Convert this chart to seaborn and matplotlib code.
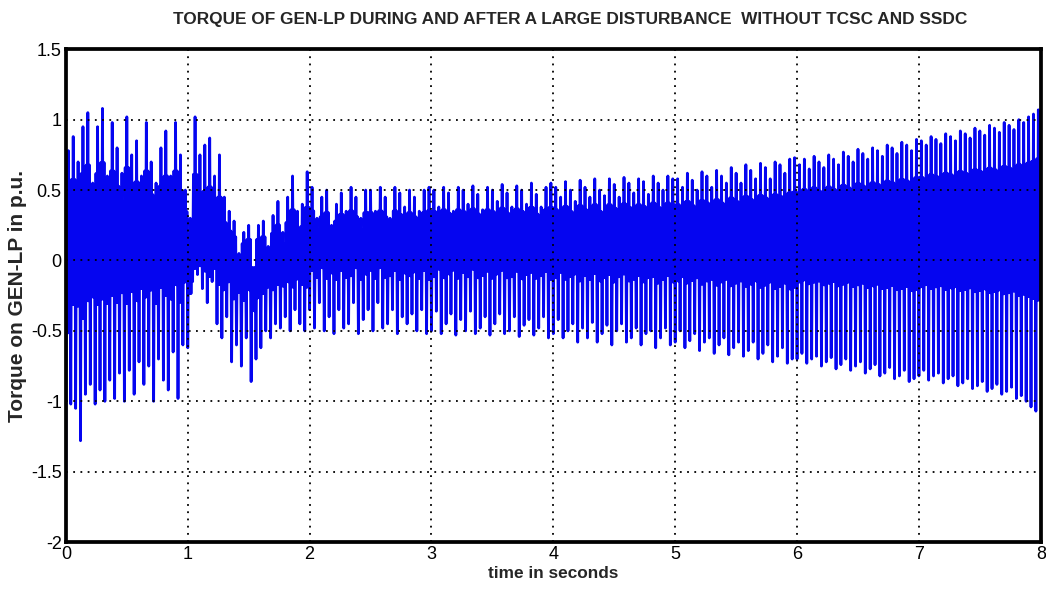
import matplotlib
matplotlib.use("Agg")
import matplotlib.pyplot as plt
import numpy as np
import pandas as pd
import seaborn as sns

# Peak (top) and trough (bottom) of each oscillation cycle,
# 25 cycles per second, one list per second of simulation time.
top0 = [0.78, 0.88, 0.70, 0.95, 1.05, 0.55, 0.95, 1.08, 0.60, 0.98, 0.80, 0.62, 1.02,
        0.75, 0.85, 0.60, 0.98, 0.70, 0.55, 0.80, 0.92, 0.60, 0.98, 0.75, 0.50]
bot0 = [-1.55, -1.02, -1.05, -1.28, -0.95, -0.88, -1.02, -0.92, -1.00, -0.85, -0.98, -0.80, -1.00,
        -0.78, -0.95, -0.72, -0.88, -0.75, -1.00, -0.70, -0.85, -0.92, -0.65, -0.98, -0.60]
top1 = [0.30, 1.02, 0.75, 0.82, 0.87, 0.60, 0.75, 0.45, 0.35, 0.28, 0.05, 0.20, 0.25,
        -0.05, 0.25, 0.28, 0.10, 0.32, 0.42, 0.20, 0.45, 0.60, 0.35, 0.40, 0.63]
bot1 = [-0.62, -0.15, -0.10, -0.20, -0.30, -0.15, -0.45, -0.55, -0.40, -0.72, -0.60, -0.75, -0.55,
        -0.86, -0.70, -0.62, -0.50, -0.55, -0.45, -0.48, -0.40, -0.50, -0.35, -0.45, -0.50]
top2 = [0.52, 0.30, 0.45, 0.50, 0.25, 0.40, 0.48, 0.35, 0.52, 0.45, 0.30, 0.50, 0.50,
        0.35, 0.52, 0.45, 0.30, 0.52, 0.48, 0.38, 0.50, 0.45, 0.35, 0.50, 0.52]
bot2 = [-0.35, -0.48, -0.30, -0.50, -0.40, -0.52, -0.35, -0.48, -0.45, -0.30, -0.52, -0.42, -0.35,
        -0.50, -0.30, -0.48, -0.45, -0.35, -0.52, -0.40, -0.45, -0.38, -0.50, -0.35, -0.52]
top3 = [0.50, 0.38, 0.52, 0.48, 0.35, 0.52, 0.50, 0.40, 0.53, 0.47, 0.36, 0.52, 0.50,
        0.42, 0.54, 0.48, 0.38, 0.53, 0.50, 0.40, 0.55, 0.47, 0.38, 0.52, 0.55]
bot3 = [-0.50, -0.36, -0.52, -0.45, -0.38, -0.53, -0.42, -0.50, -0.36, -0.52, -0.48, -0.40, -0.53,
        -0.45, -0.38, -0.52, -0.50, -0.40, -0.54, -0.46, -0.42, -0.53, -0.48, -0.40, -0.55]
top4 = [0.52, 0.45, 0.56, 0.50, 0.42, 0.57, 0.52, 0.45, 0.58, 0.50, 0.46, 0.58, 0.54,
        0.45, 0.59, 0.55, 0.48, 0.58, 0.56, 0.47, 0.60, 0.55, 0.50, 0.60, 0.58]
bot4 = [-0.52, -0.42, -0.55, -0.50, -0.45, -0.58, -0.48, -0.55, -0.44, -0.58, -0.52, -0.46, -0.60,
        -0.50, -0.45, -0.58, -0.55, -0.48, -0.60, -0.52, -0.50, -0.62, -0.55, -0.48, -0.60]
top5 = [0.58, 0.52, 0.62, 0.57, 0.50, 0.63, 0.60, 0.52, 0.64, 0.60, 0.55, 0.66, 0.62,
        0.55, 0.68, 0.64, 0.58, 0.69, 0.66, 0.58, 0.70, 0.68, 0.62, 0.72, 0.73]
bot5 = [-0.58, -0.50, -0.62, -0.57, -0.52, -0.64, -0.58, -0.55, -0.66, -0.60, -0.55, -0.67, -0.62,
        -0.58, -0.68, -0.64, -0.58, -0.70, -0.66, -0.60, -0.72, -0.68, -0.62, -0.73, -0.70]
top6 = [0.68, 0.72, 0.65, 0.74, 0.70, 0.66, 0.75, 0.72, 0.68, 0.77, 0.74, 0.70, 0.79,
        0.76, 0.72, 0.80, 0.78, 0.74, 0.82, 0.80, 0.76, 0.84, 0.82, 0.78, 0.86]
bot6 = [-0.70, -0.66, -0.73, -0.70, -0.68, -0.75, -0.72, -0.69, -0.77, -0.74, -0.70, -0.78, -0.75,
        -0.72, -0.80, -0.77, -0.74, -0.82, -0.80, -0.76, -0.84, -0.82, -0.78, -0.86, -0.84]
top7 = [0.85, 0.82, 0.88, 0.86, 0.83, 0.90, 0.88, 0.85, 0.92, 0.90, 0.87, 0.94, 0.92,
        0.89, 0.96, 0.94, 0.91, 0.98, 0.96, 0.93, 1.00, 0.98, 1.02, 1.04, 1.07]
bot7 = [-0.82, -0.78, -0.85, -0.82, -0.80, -0.87, -0.84, -0.82, -0.89, -0.87, -0.84, -0.91, -0.89,
        -0.86, -0.93, -0.91, -0.88, -0.95, -0.93, -0.90, -0.98, -0.96, -1.00, -1.04, -1.07]

# Level around which the fast ripple sits, one value per second
ripple_mid = [0.12, 0.00, 0.10, 0.12, 0.12, 0.12, 0.18, 0.20]

CYCLES_PER_SEC = 25
y_ticks = [-2, -1.5, -1, -0.5, 0, 0.5, 1, 1.5]
y_labels = ["-2", "-1.5", "-1", "-0.5", "0", "0.5", "1", "1.5"]
x_ticks = [0, 1, 2, 3, 4, 5, 6, 7, 8]


def build_frame():
    tops = top0 + top1 + top2 + top3 + top4 + top5 + top6 + top7
    bots = bot0 + bot1 + bot2 + bot3 + bot4 + bot5 + bot6 + bot7
    torque = []
    for i, (b, t) in enumerate(zip(bots, tops)):
        c = min(max(ripple_mid[i // CYCLES_PER_SEC], b), t)
        # each cycle: trough, ripple up, ripple down, peak, ripple down, ripple up
        hi = c + 0.60 * (t - c)
        lo = c + 0.38 * (b - c)
        torque.extend([b, hi, lo, t, lo, hi])
    step = 1.0 / CYCLES_PER_SEC / 6
    time = np.arange(len(torque)) * step
    return pd.DataFrame({"time": time, "torque": torque})


def main():
    sns.set_style("white")
    plt.rcParams["axes.unicode_minus"] = False
    narrow = ["Liberation Sans Narrow", "DejaVu Sans Condensed", "Liberation Sans", "DejaVu Sans"]

    df = build_frame()
    fig = plt.figure(figsize=(10.46, 6.01), dpi=100)
    ax = fig.add_axes([0.063, 0.098, 0.932, 0.820])

    sns.lineplot(data=df, x="time", y="torque", ax=ax, color="#0505f0",
                 linewidth=2.0, estimator=None, sort=False)

    ax.set_xlim(0, 8)
    ax.set_ylim(-2, 1.5)
    ax.set_xticks(x_ticks)
    ax.set_xticklabels([str(v) for v in x_ticks], family=narrow, fontsize=13)
    ax.set_yticks(y_ticks)
    ax.set_yticklabels(y_labels, family=narrow, fontsize=13)
    ax.tick_params(direction="in", length=6, width=2, pad=3, colors="black")

    ax.grid(True, linestyle=(0, (1, 3)), color="black", linewidth=1.3)
    ax.set_axisbelow(False)
    for sp in ax.spines.values():
        sp.set_linewidth(2.7)
        sp.set_color("black")

    ax.set_title("TORQUE OF GEN-LP DURING AND AFTER A LARGE DISTURBANCE  WITHOUT TCSC AND SSDC",
                 family=narrow, fontsize=12.4, fontweight="bold", x=0.517, y=1.0, pad=18)
    ax.set_xlabel("time in seconds", family=narrow, fontsize=12.4, fontweight="bold", labelpad=2)
    ax.set_ylabel("Torque on GEN-LP in p.u.", family=["Liberation Sans", "DejaVu Sans"],
                  fontsize=15, fontweight="bold", labelpad=3)

    fig.savefig("out.png", dpi=100)
    plt.close(fig)


if __name__ == "__main__":
    main()
